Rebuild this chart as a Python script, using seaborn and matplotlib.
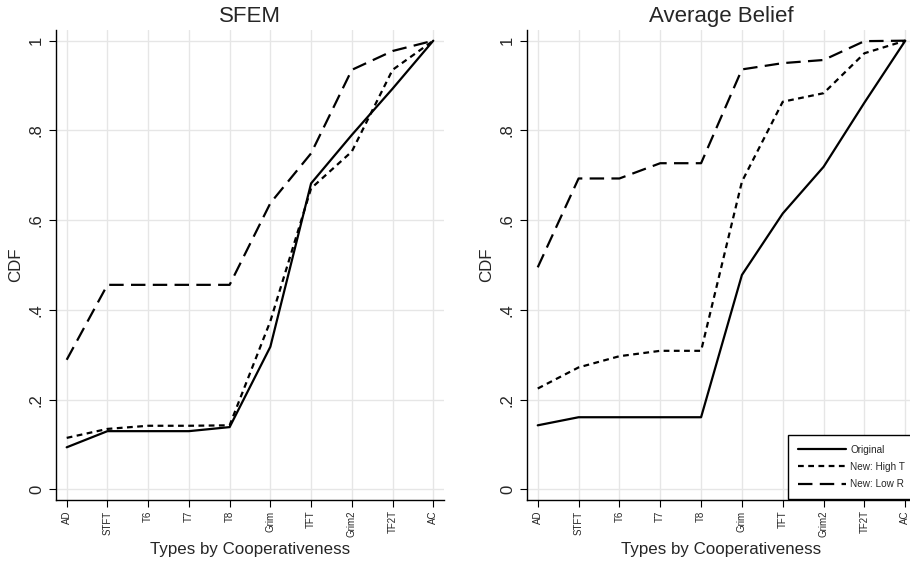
import numpy as np
import pandas as pd
import matplotlib
matplotlib.use("Agg")
import matplotlib.pyplot as plt
import seaborn as sns

types = ["AD", "STFT", "T6", "T7", "T8", "Grim", "TFT", "Grim2", "TF2T", "AC"]
series_names = ["Original", "New: High T", "New: Low R"]

sfem_original = [0.094, 0.130, 0.130, 0.130, 0.139, 0.318, 0.682, 0.790, 0.893, 1.0]
sfem_high_t = [0.115, 0.135, 0.142, 0.142, 0.143, 0.375, 0.671, 0.753, 0.935, 1.0]
sfem_low_r = [0.289, 0.456, 0.456, 0.456, 0.456, 0.638, 0.749, 0.935, 0.977, 1.0]

belief_original = [0.143, 0.161, 0.161, 0.161, 0.161, 0.478, 0.615, 0.719, 0.862, 1.0]
belief_high_t = [0.225, 0.272, 0.297, 0.309, 0.309, 0.686, 0.864, 0.883, 0.972, 1.0]
belief_low_r = [0.495, 0.693, 0.693, 0.727, 0.727, 0.936, 0.950, 0.957, 0.999, 1.0]

yticks = [0, 0.2, 0.4, 0.6, 0.8, 1.0]
ytick_labels = ["0", ".2", ".4", ".6", ".8", "1"]


def long_df(orig, hight, lowr):
    rows = []
    for name, vals in zip(series_names, [orig, hight, lowr]):
        for i, v in enumerate(vals):
            rows.append({"pos": i, "cdf": v, "series": name})
    return pd.DataFrame(rows)


sns.set_theme(style="white")
plt.rcParams["font.family"] = ["Liberation Sans", "DejaVu Sans"]

fig = plt.figure(figsize=(9.10, 5.63), dpi=100)
ax1 = fig.add_axes([0.0612, 0.1119, 0.4267, 0.8348])
ax2 = fig.add_axes([0.5788, 0.1119, 0.4278, 0.8348])

dashes = {"Original": "", "New: High T": (2.6, 2.0), "New: Low R": (6.5, 3.3)}

for ax, title, data, show_leg in [
    (ax1, "SFEM", long_df(sfem_original, sfem_high_t, sfem_low_r), False),
    (ax2, "Average Belief", long_df(belief_original, belief_high_t, belief_low_r), True),
]:
    sns.lineplot(data=data, x="pos", y="cdf", style="series", dashes=dashes,
                 color="black", linewidth=1.6, ax=ax, legend=show_leg,
                 style_order=series_names)
    ax.set_xlim(-0.27, 9.263)
    ax.set_ylim(-0.0234, 1.0238)
    ax.set_xticks(range(len(types)))
    ax.set_xticklabels(types, rotation=90, fontsize=7)
    ax.set_yticks(yticks)
    ax.set_yticklabels(ytick_labels, rotation=90, fontsize=12, va="center")
    ax.grid(True, color="#e6e6e6", linewidth=1.0)
    ax.set_axisbelow(True)
    for s in ["top", "right"]:
        ax.spines[s].set_visible(False)
    for s in ["left", "bottom"]:
        ax.spines[s].set_color("black")
        ax.spines[s].set_linewidth(1.0)
    ax.tick_params(axis="both", which="both", direction="out", length=5,
                   width=0.8, color="black", bottom=True, left=True, pad=2.5)
    ax.tick_params(axis="y", pad=3.5)
    ax.set_xlabel("Types by Cooperativeness", fontsize=12.2, labelpad=4)
    ax.set_ylabel("CDF", fontsize=12.2)
    ax.set_title(title, fontsize=16, pad=6)
    if show_leg:
        leg = ax.legend(loc="lower right", bbox_to_anchor=(1.0, 0.0),
                        fontsize=7.2, frameon=True, fancybox=False,
                        edgecolor="black", framealpha=1, handlelength=4.8,
                        handletextpad=0.45, borderaxespad=0.15, title=None,
                        borderpad=0.95, labelspacing=0.72)
        leg.get_frame().set_linewidth(1.0)
        for line in leg.get_lines():
            line.set_linewidth(1.6)

fig.savefig("out.png", dpi=100)
